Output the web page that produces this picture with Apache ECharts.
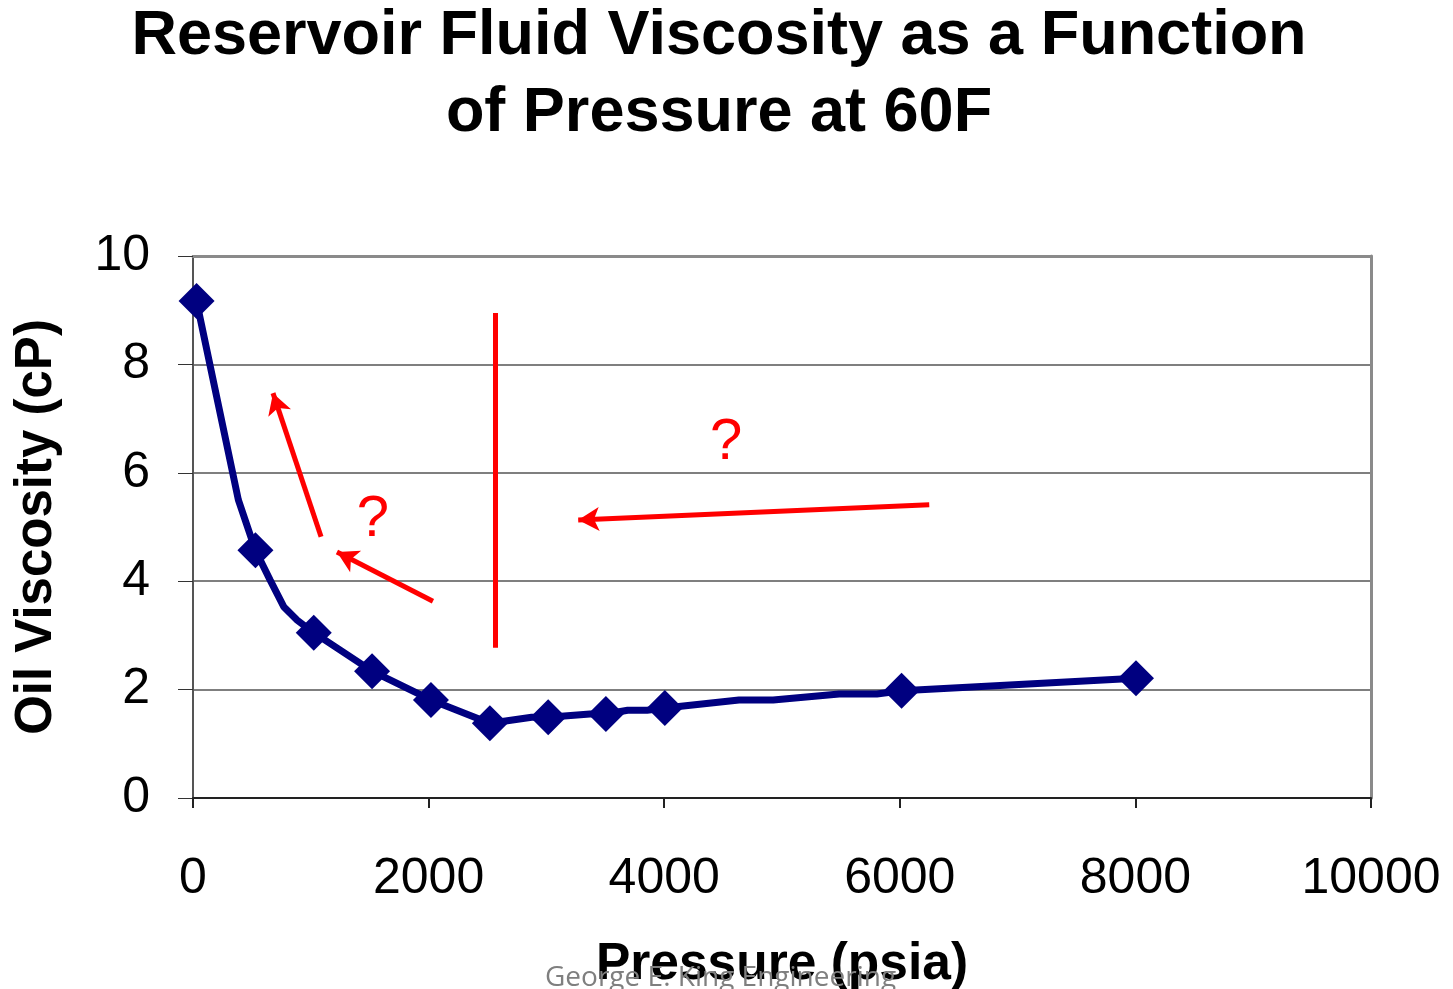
<!DOCTYPE html>
<html>
<head>
<meta charset="utf-8">
<title>Reservoir Fluid Viscosity</title>
<script src="https://cdn.jsdelivr.net/npm/echarts@6/dist/echarts.min.js"></script>
<style>
  html, body { margin: 0; padding: 0; background: #fff; }
  #chart { width: 1453px; height: 989px; }
</style>
</head>
<body>
<div id="chart"></div>
<script>
const pressure = [30, 530, 1025, 1520, 2020, 2520, 3015, 3505, 4005, 6015, 8005];
const viscosity = [9.17, 4.57, 3.05, 2.34, 1.81, 1.38, 1.49, 1.55, 1.66, 1.98, 2.21];

// the drawn curve has a few more vertices than the markers
const curveP = [30, 385, 530, 655, 770, 885, 1025, 1520, 2020, 2520, 2875, 3015, 3370, 3505,
  3690, 3855, 4005, 4635, 4925, 5485, 5805, 6015, 8005];
const curveV = [9.17, 5.5, 4.57, 4.02, 3.53, 3.28, 3.05, 2.34, 1.81, 1.38, 1.49, 1.49, 1.55, 1.55,
  1.62, 1.62, 1.66, 1.81, 1.81, 1.92, 1.92, 1.98, 2.21];

const xTicks = [0, 2000, 4000, 6000, 8000, 10000];
const yTicks = [0, 2, 4, 6, 8, 10];

// red annotations drawn on top of the chart (data coords)
const arrows = [
  [[6250, 5.41], [3270, 5.13]],
  [[1087, 4.82], [679, 7.47]],
  [[2037, 3.63], [1222, 4.54]]
];
const barLine = [[2570, 8.95], [2570, 2.77]];
const questionMarks = [[4525, 6.55], [1528, 5.12]];

const myChart = echarts.init(document.getElementById("chart"));

const red = "#ff0000";
const navy = "#000080";
const font = "Liberation Sans, Arial, sans-serif";

myChart.setOption({
  backgroundColor: "#fff",
  animation: false,
  title: {
    text: "Reservoir Fluid Viscosity as a Function\nof Pressure at 60F",
    left: 714,
    textAlign: "center",
    top: -7,
    textStyle: {
      fontFamily: font,
      fontWeight: "bold",
      fontSize: 63,
      lineHeight: 77,
      color: "#000",
    },
  },
  grid: { left: 193, right: 82, top: 256, bottom: 191, outerBoundsMode: "none" },
  xAxis: [
    {
      type: "value",
      min: 0,
      max: 10000,
      interval: 2000,
      name: "Pressure (psia)",
      nameLocation: "middle",
      nameGap: 141,
      nameTextStyle: {
        fontFamily: font,
        fontWeight: "bold",
        fontSize: 51.5,
        color: "#000",
      },
      axisLine: { lineStyle: { color: "#222", width: 2 } },
      axisTick: { show: true, length: 10, lineStyle: { color: "#222", width: 2 } },
      axisLabel: {
        margin: 56,
        fontFamily: font,
        fontSize: 50,
        color: "#000",
        formatter: (v) => (xTicks.includes(v) ? String(v) : ""),
      },
      splitLine: { show: false },
    },
    {
      type: "value",
      position: "top",
      min: 0,
      max: 10000,
      axisLine: { show: true, onZero: false, lineStyle: { color: "#8a8a8a", width: 3 } },
      axisTick: { show: false },
      axisLabel: { show: false },
      splitLine: { show: false },
    },
  ],
  yAxis: [
    {
      type: "value",
      min: 0,
      max: 10,
      interval: 2,
      name: "Oil Viscosity (cP)",
      nameLocation: "middle",
      nameGap: 131,
      nameTextStyle: {
        fontFamily: font,
        fontWeight: "bold",
        fontSize: 51,
        color: "#000",
      },
      axisLine: { show: true, onZero: false, lineStyle: { color: "#555", width: 2 } },
      axisTick: { show: true, length: 15, lineStyle: { color: "#333", width: 1 } },
      axisLabel: {
        margin: 43,
        padding: [6, 0, 0, 0],
        fontFamily: font,
        fontSize: 50,
        color: "#000",
        formatter: (v) => (yTicks.includes(v) ? String(v) : ""),
      },
      splitLine: { show: true, lineStyle: { color: "#555", width: 1.5 } },
    },
    {
      type: "value",
      position: "right",
      min: 0,
      max: 10,
      axisLine: { show: true, onZero: false, lineStyle: { color: "#8a8a8a", width: 3 } },
      axisTick: { show: false },
      axisLabel: { show: false },
      splitLine: { show: false },
    },
  ],
  series: [
    {
      name: "curve",
      type: "line",
      data: curveP.map((p, i) => [p, curveV[i]]),
      showSymbol: false,
      symbol: "none",
      lineStyle: { color: navy, width: 7 },
      z: 3,
    },
    {
      name: "points",
      type: "scatter",
      data: pressure.map((p, i) => [p, viscosity[i]]),
      symbol: "diamond",
      symbolSize: [36, 36],
      itemStyle: { color: navy, opacity: 1 },
      z: 4,
      markLine: {
        silent: true,
        animation: false,
        symbol: ["none", "arrow"],
        symbolSize: [18, 21],
        label: { show: false },
        lineStyle: { color: red, width: 5, type: "solid" },
        data: [
          ...arrows.map((a) => [{ coord: a[0] }, { coord: a[1] }]),
          [
            { coord: barLine[0], symbol: "none" },
            { coord: barLine[1], symbol: "none" },
          ],
        ],
      },
      markPoint: {
        silent: true,
        symbol: "circle",
        symbolSize: 0,
        label: {
          show: true,
          position: "inside",
          formatter: "?",
          fontFamily: font,
          fontSize: 58,
          color: red,
        },
        data: questionMarks.map((q) => ({ coord: q })),
      },
    },
  ],
  graphic: [
    {
      type: "text",
      left: 545,
      top: 964,
      z: 100,
      style: {
        text: "George E. King Engineering",
        font: "28px 'Liberation Sans Narrow', 'Open Sans', sans-serif",
        fill: "#7f7f7f",
      },
    },
  ],
});
</script>
</body>
</html>
